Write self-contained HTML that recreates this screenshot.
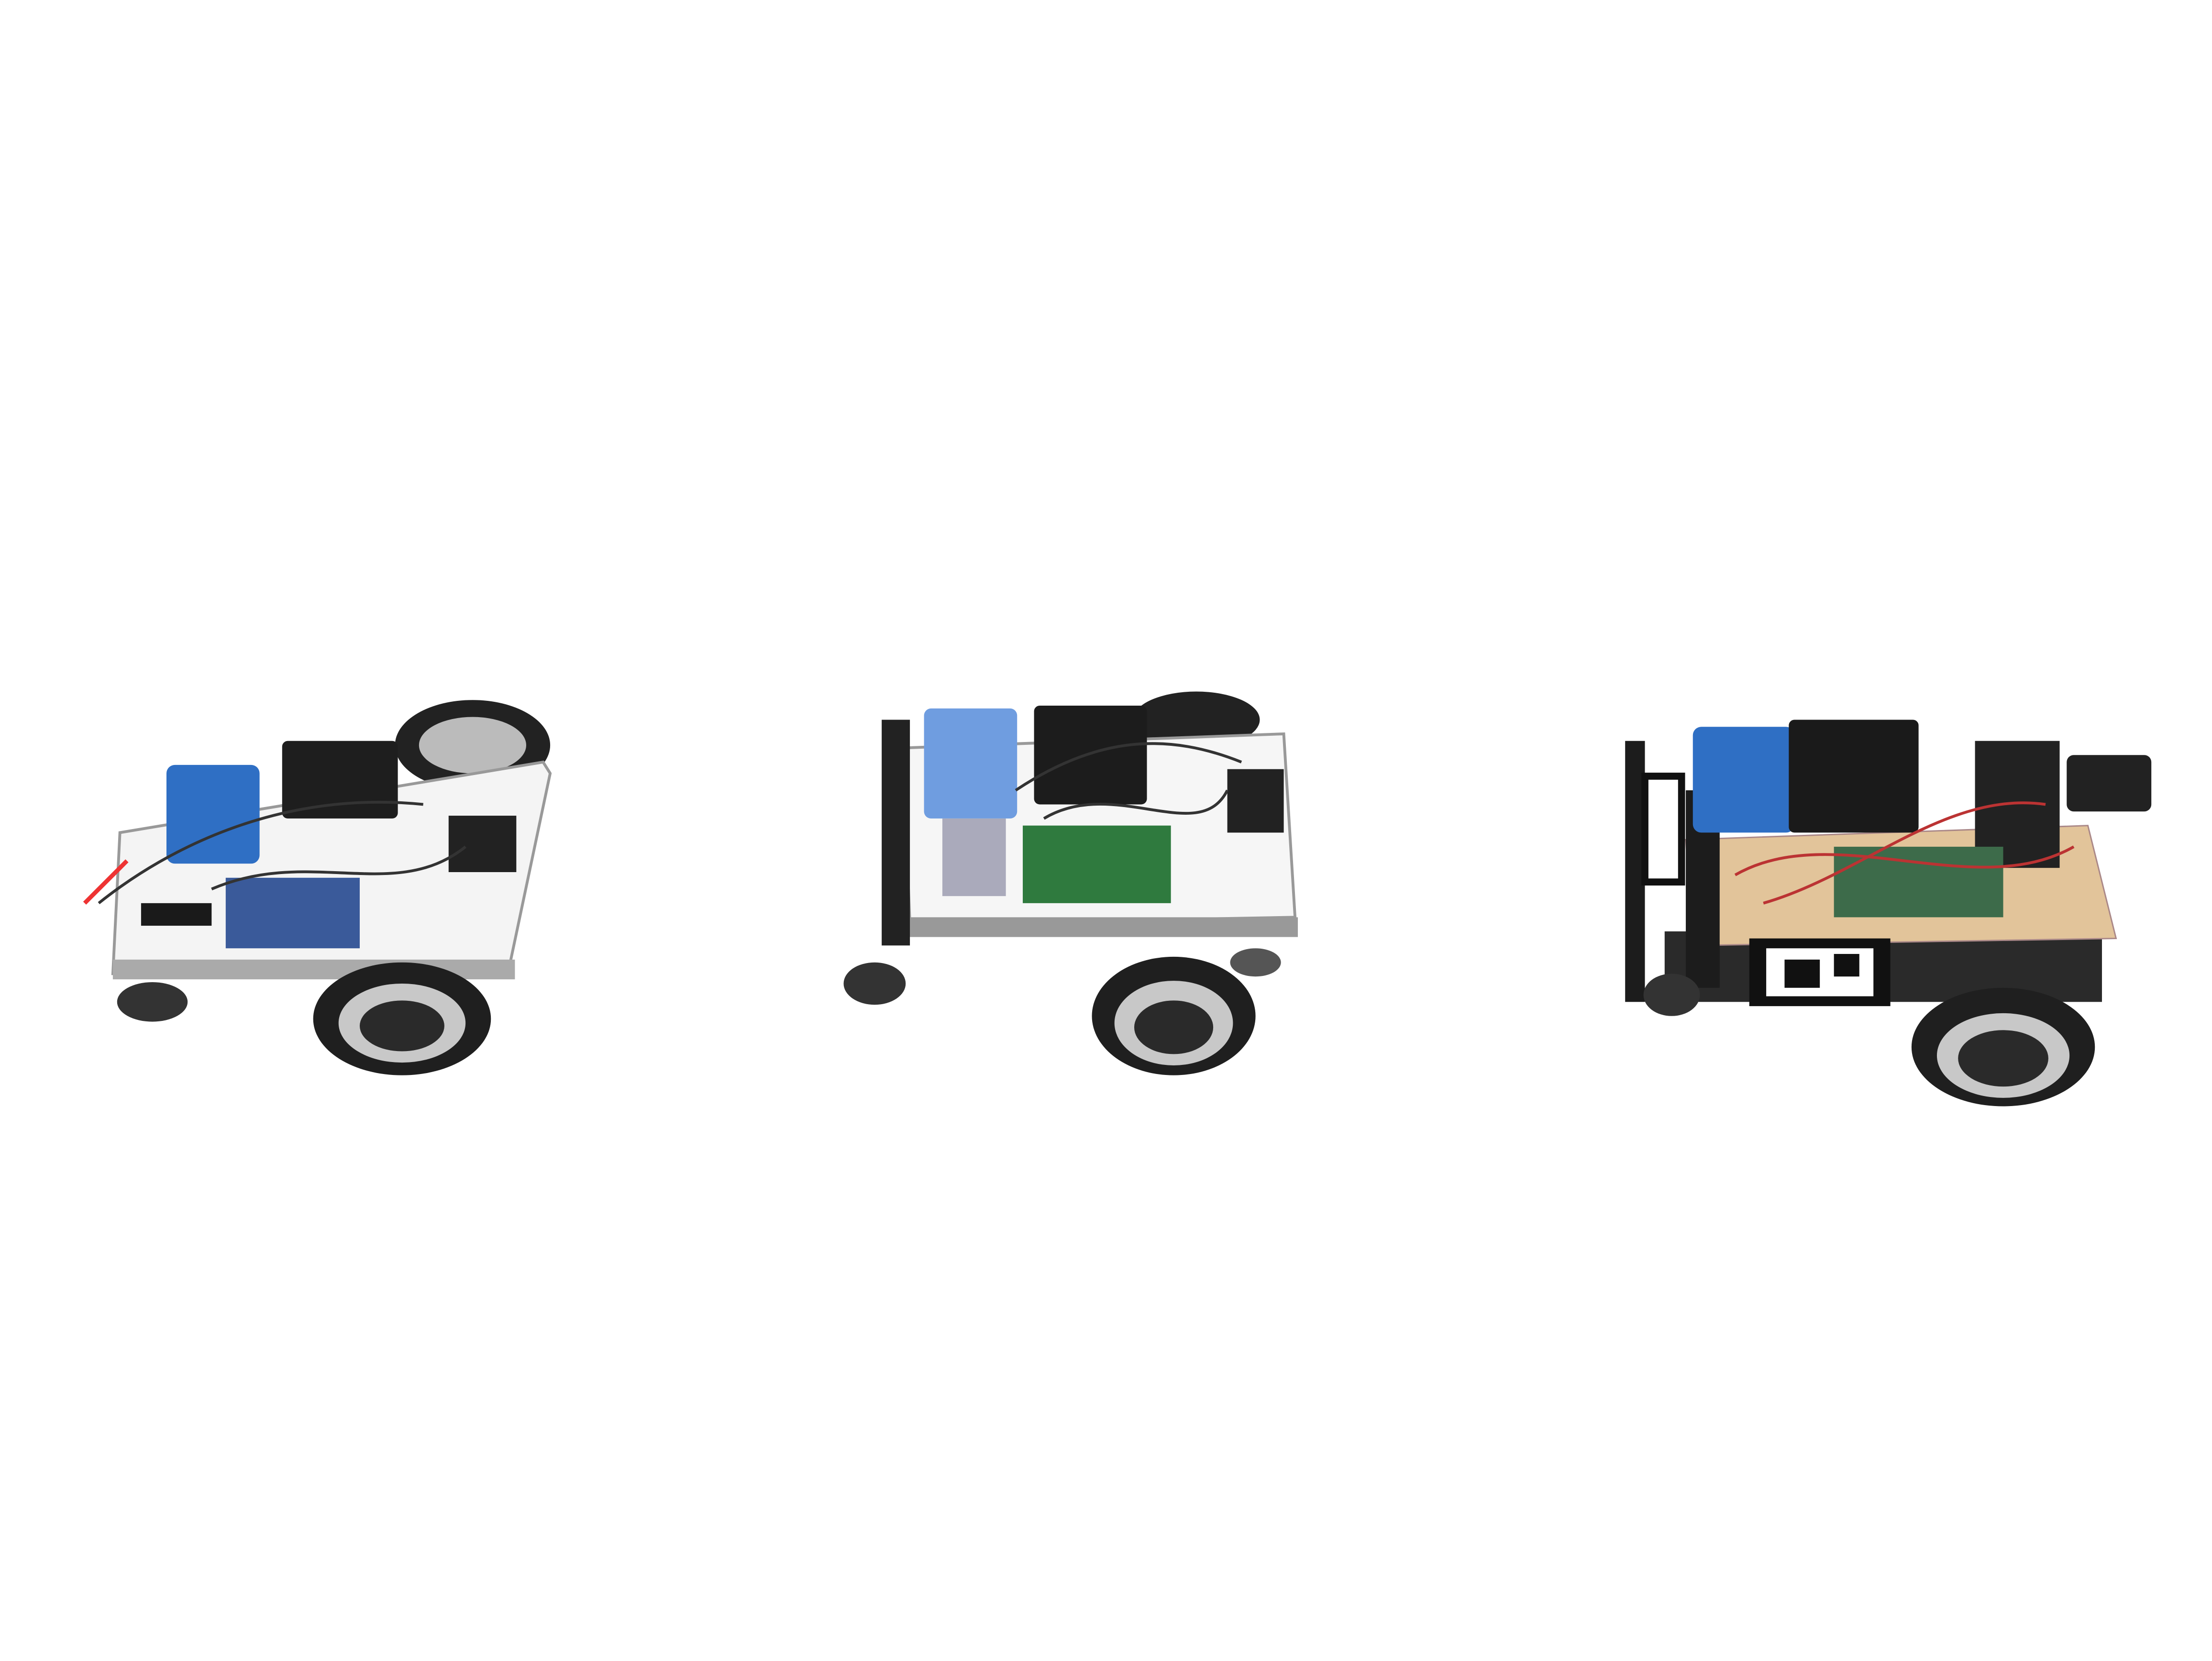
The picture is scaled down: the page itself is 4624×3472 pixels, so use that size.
<!DOCTYPE html>
<html><head><meta charset="utf-8"><style>
html,body{margin:0;padding:0;background:#fff;}
svg{display:block;}
</style></head><body>
<svg width="4624" height="3472" viewBox="0 0 1568 1177" xmlns="http://www.w3.org/2000/svg">
<rect width="1568" height="1177" fill="#fff"/>
<!-- Robot 1 -->
<g>
  <ellipse cx="335" cy="528" rx="55" ry="32" fill="#222"/>
  <ellipse cx="335" cy="528" rx="38" ry="20" fill="#bbb"/>
  <polygon points="85,590 385,540 390,548 360,690 80,690" fill="#f4f4f4" stroke="#999" stroke-width="2"/>
  <rect x="80" y="680" width="285" height="14" fill="#aaa"/>
  <rect x="118" y="542" width="66" height="70" rx="6" fill="#2f6fc4"/>
  <rect x="200" y="525" width="82" height="55" rx="4" fill="#1e1e1e"/>
  <rect x="318" y="578" width="48" height="40" fill="#222"/>
  <rect x="160" y="622" width="95" height="50" fill="#3a5a9a"/>
  <rect x="100" y="640" width="50" height="16" fill="#1a1a1a"/>
  <path d="M70,640 C120,600 200,560 300,570 M150,630 C220,600 280,640 330,600" stroke="#333" stroke-width="2" fill="none"/>
  <path d="M90,610 L60,640" stroke="#e33" stroke-width="3"/>
  <ellipse cx="108" cy="710" rx="25" ry="14" fill="#333"/>
  <ellipse cx="285" cy="722" rx="63" ry="40" fill="#1f1f1f"/>
  <ellipse cx="285" cy="725" rx="45" ry="28" fill="#c8c8c8"/>
  <ellipse cx="285" cy="727" rx="30" ry="18" fill="#2a2a2a"/>
</g>
<!-- Robot 2 -->
<g>
  <ellipse cx="848" cy="510" rx="45" ry="20" fill="#222"/>
  <polygon points="640,530 910,520 918,650 645,655" fill="#f6f6f6" stroke="#999" stroke-width="2"/>
  <rect x="640" y="650" width="280" height="14" fill="#999"/>
  <rect x="625" y="510" width="20" height="160" fill="#222"/>
  <rect x="655" y="502" width="66" height="78" rx="5" fill="#6f9de0"/>
  <rect x="668" y="580" width="45" height="55" fill="#aab"/>
  <rect x="733" y="500" width="80" height="70" rx="4" fill="#1c1c1c"/>
  <rect x="725" y="585" width="105" height="55" fill="#2f7a3e"/>
  <rect x="870" y="545" width="40" height="45" fill="#222"/>
  <path d="M720,560 C780,520 830,520 880,540 M740,580 C790,550 850,600 870,560" stroke="#333" stroke-width="2" fill="none"/>
  <ellipse cx="620" cy="697" rx="22" ry="15" fill="#333"/>
  <ellipse cx="890" cy="682" rx="18" ry="10" fill="#555"/>
  <ellipse cx="832" cy="720" rx="58" ry="42" fill="#1f1f1f"/>
  <ellipse cx="832" cy="725" rx="42" ry="30" fill="#c8c8c8"/>
  <ellipse cx="832" cy="728" rx="28" ry="19" fill="#2a2a2a"/>
</g>
<!-- Robot 3 -->
<g>
  <rect x="1180" y="660" width="310" height="50" fill="#2a2a2a"/>
  <polygon points="1195,595 1480,585 1500,665 1200,670" fill="#e2c49a" stroke="#a88" stroke-width="1"/>
  <rect x="1152" y="525" width="14" height="185" fill="#1c1c1c"/>
  <rect x="1195" y="560" width="24" height="140" fill="#1c1c1c"/>
  <rect x="1200" y="515" width="72" height="75" rx="6" fill="#2f6fc4"/>
  <rect x="1268" y="510" width="92" height="80" rx="4" fill="#1a1a1a"/>
  <rect x="1400" y="525" width="60" height="90" fill="#222"/>
  <rect x="1465" y="535" width="60" height="40" rx="5" fill="#222"/>
  <rect x="1240" y="665" width="100" height="48" fill="#111"/>
  <rect x="1252" y="672" width="76" height="34" fill="#fff"/>
  <rect x="1265" y="680" width="25" height="20" fill="#111"/>
  <rect x="1300" y="676" width="18" height="16" fill="#111"/>
  <rect x="1166" y="550" width="26" height="75" fill="#fff" stroke="#111" stroke-width="5"/>
  <rect x="1300" y="600" width="120" height="50" fill="#3d6b4a"/>
  <path d="M1230,620 C1300,580 1400,640 1470,600 M1250,640 C1320,620 1380,560 1450,570" stroke="#b33" stroke-width="2" fill="none"/>
  <ellipse cx="1185" cy="705" rx="20" ry="15" fill="#333"/>
  <ellipse cx="1420" cy="742" rx="65" ry="42" fill="#1f1f1f"/>
  <ellipse cx="1420" cy="748" rx="47" ry="30" fill="#c8c8c8"/>
  <ellipse cx="1420" cy="750" rx="32" ry="20" fill="#2a2a2a"/>
</g>
</svg>
</body></html>
